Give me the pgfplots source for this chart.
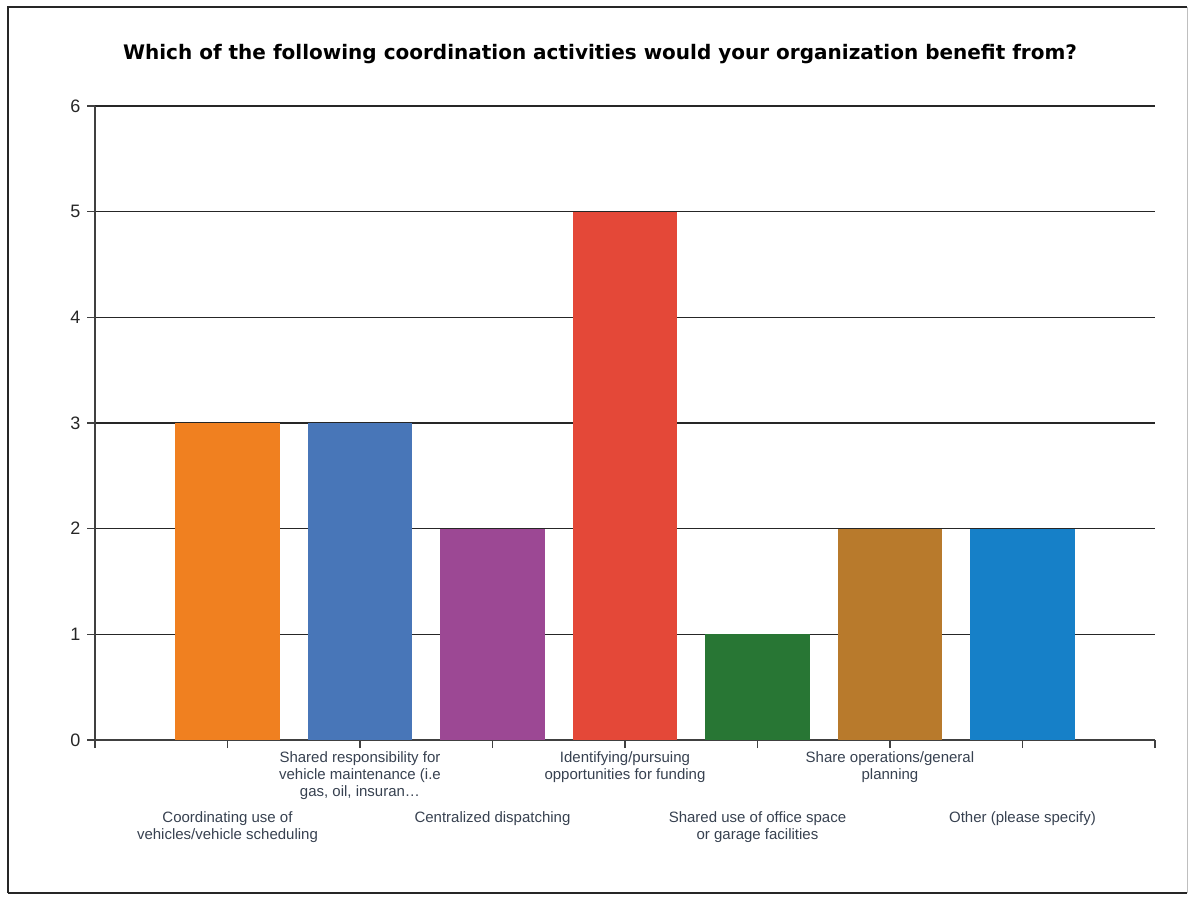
\documentclass[border=0pt]{standalone}
\usepackage{fontspec}
\setmainfont{Liberation Sans}
\newfontfamily\titlefont{DejaVu Sans}
\usepackage{pgfplots}
\pgfplotsset{compat=1.18}
\definecolor{labcol}{RGB}{55,65,80}
\definecolor{c1}{RGB}{240,128,32}
\definecolor{c2}{RGB}{72,118,184}
\definecolor{c3}{RGB}{156,72,148}
\definecolor{c4}{RGB}{228,72,56}
\definecolor{c5}{RGB}{40,118,52}
\definecolor{c6}{RGB}{184,122,44}
\definecolor{c7}{RGB}{22,128,200}
\begin{document}
\begin{tikzpicture}[x=1pt,y=1pt]
\path[use as bounding box] (0,0) rectangle (1193,899);
\draw[line width=2.5pt, black!85] (8,6) -- (8,892) -- (1187,892);
\draw[line width=2.5pt, black!85] (8,6) -- (1187,6);
\draw[line width=1pt, black!25] (1187,6) -- (1187,892);
\node[font=\titlefont\bfseries\fontsize{20}{24}\selectfont] at (600,845) {Which of the following coordination activities would your organization benefit from?};
\begin{axis}[
  at={(95pt,159pt)}, anchor=south west,
  scale only axis, width=1060pt, height=634pt,
  xmin=-1, xmax=7, ymin=0, ymax=6,
  axis x line=bottom, axis y line=left,
  axis line style={-, black!75, line width=1.3pt},
  ytick={0,1,2,3,4,5,6},
  ymajorgrids,
  major grid style={black!85, line width=1.4pt},
  tick align=outside,
  major tick length=8pt,
  tick style={black!75, line width=1.3pt},
  /pgf/number format/assume math mode=true,
  yticklabel style={font=\fontsize{18}{20}\selectfont, text=black!85, xshift=-3pt},
  xtick={-1,1,3,5,7},
  xticklabels={{},{Shared responsibility for\\vehicle maintenance (i.e\\gas, oil, insuran\ldots},{Identifying/pursuing\\opportunities for funding},{Share operations/general\\planning},{}},
  xticklabel style={align=center, font=\fontsize{15}{17}\selectfont, text=labcol},
  extra x ticks={0,2,4,6},
  extra x tick labels={{Coordinating use of\\vehicles/vehicle scheduling},{Centralized dispatching},{Shared use of office space\\or garage facilities},{Other (please specify)}},
  extra x tick style={xticklabel style={yshift=-60pt}},
  mybar/.style={ybar, bar width=0.79, bar shift=0pt, draw=none, fill=#1},
]
\addplot[mybar=c1] coordinates {(0,3)};
\addplot[mybar=c2] coordinates {(1,3)};
\addplot[mybar=c3] coordinates {(2,2)};
\addplot[mybar=c4] coordinates {(3,5)};
\addplot[mybar=c5] coordinates {(4,1)};
\addplot[mybar=c6] coordinates {(5,2)};
\addplot[mybar=c7] coordinates {(6,2)};
\end{axis}
\end{tikzpicture}
\end{document}
